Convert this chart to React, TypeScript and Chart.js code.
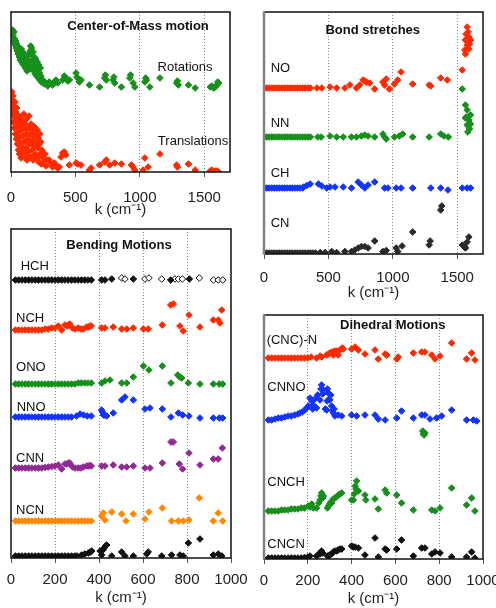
import React, { useEffect, useRef } from 'react';
import { Chart, registerables } from 'chart.js';

Chart.register(...registerables);

type Pt = [number, number];

// tick values
const ticksWide = [0, 500, 1000, 1500];
const ticksNarrow = [0, 200, 400, 600, 800, 1000];

// ---------- Panel 1: Center-of-Mass motion (x in cm-1, y arbitrary units 0..160) ----------
const rotations: Pt[] = [
  [8,138],[12,142],[16,136],[20,130],[24,140],[28,133],[32,127],[36,131],[40,124],[44,128],[48,121],[52,126],
  [56,118],[60,122],[64,115],[68,120],[72,112],[76,117],[80,123],[84,110],[88,116],[92,108],[96,113],[100,119],
  [104,106],[108,111],[112,104],[116,115],[120,109],[124,101],[128,112],[132,106],[136,117],[140,110],[144,103],
  [148,121],[152,126],[156,118],[160,124],[164,112],[168,107],[172,120],[176,101],[180,115],[184,109],[188,98],
  [192,113],[196,104],[200,96],[204,110],[208,101],[212,94],[216,107],[220,99],[224,92],[228,104],[232,96],
  [236,90],[240,93],[245,92],[258,88],[271,89],[285,86],[297,90],[310,88],[323,87],[336,90],[349,92],[362,89],
  [401,92],[414,96],[427,94],[440,91],[453,92],[505,99],[512,95],[518,94],[531,90],[544,92],[609,87],[688,85],
  [727,94],[733,97],[740,92],[792,92],[799,95],[805,89],[857,85],[922,94],[928,97],[948,89],[961,85],[1039,90],
  [1046,94],[1052,92],[1078,85],[1156,94],[1286,89],[1292,91],[1299,87],[1378,87],[1430,84],[1547,85],[1560,86],
  [1573,84],[1586,85],[1599,87],[1605,90],[1612,89]
];
const translations: Pt[] = [
  [8,80],[10,72],[12,66],[14,58],[16,76],[18,50],[20,69],[24,62],[26,44],[28,55],[32,70],[34,38],[36,60],
  [40,50],[42,33],[44,64],[48,45],[50,28],[52,57],[56,40],[58,22],[60,52],[64,35],[66,18],[68,47],[72,30],
  [76,55],[78,14],[80,42],[84,25],[88,50],[90,36],[94,20],[98,44],[100,58],[104,30],[108,16],[110,48],[114,38],
  [118,24],[120,53],[124,12],[126,43],[130,33],[134,20],[138,45],[140,56],[144,28],[148,38],[152,15],[156,48],
  [160,30],[164,22],[168,42],[172,12],[176,35],[180,26],[184,45],[188,18],[192,38],[196,30],[200,14],[204,42],
  [208,24],[212,34],[216,10],[220,28],[224,38],[228,18],[232,30],[236,8],[240,22],[248,14],[256,10],[264,18],
  [272,6],[280,12],[297,12],[310,8],[323,5],[336,9],[349,7],[362,4],[375,5],[388,15],[401,19],[414,20],[427,17],
  [453,7],[505,9],[518,8],[544,7],[609,2],[622,4],[688,7],[727,10],[740,12],[766,7],[805,9],[857,8],[935,7],
  [948,5],[961,2],[1026,2],[1039,14],[1065,5],[1156,18],[1286,7],[1292,5],[1378,8],[1430,2],[1547,1],[1560,2],
  [1586,1],[1599,1],[1612,0]
];

// ---------- Panel 2: Bond stretches (y 0..242) ----------
const noData: Pt[] = [
  [20,166],[40,166],[60,166],[80,166],[100,166],[120,166],[140,166],[160,166],[180,166],[200,166],[220,166],
  [240,166],[260,166],[280,166],[300,166],[320,166],[340,166],[360,166],[411,166],[449,166],[513,167],[564,166],
  [628,166],[667,169],[718,166],[744,169],[769,174],[782,173],[795,172],[821,171],[859,165],[923,172],[936,169],
  [949,175],[974,165],[1013,170],[1038,174],[1064,182],[1154,170],[1282,169],[1295,168],[1372,176],[1423,174],
  [1539,184],[1577,227],[1585,222],[1569,220],[1590,217],[1564,214],[1603,214],[1595,210],[1577,209],[1590,205],
  [1559,204],[1564,200]
];
const nnData: Pt[] = [
  [20,117],[40,117],[60,117],[80,117],[100,117],[120,117],[140,117],[160,117],[180,117],[200,117],[220,117],
  [240,117],[260,117],[280,117],[300,117],[320,117],[340,117],[360,117],[418,117],[444,117],[513,118],[564,117],
  [615,117],[679,117],[718,117],[756,118],[782,119],[808,118],[859,117],[923,120],[936,117],[949,115],[1013,117],
  [1051,118],[1077,120],[1154,117],[1282,117],[1372,120],[1397,118],[1431,117],[1539,165],[1564,149],[1577,144],
  [1569,137],[1590,134],[1603,130],[1577,129],[1595,125],[1582,122],[1564,136],[1603,139]
];
const chData: Pt[] = [
  [20,66],[40,66],[60,66],[80,66],[100,66],[120,66],[140,66],[160,66],[180,66],[200,66],[220,66],[240,66],
  [260,66],[280,66],[300,66],[308,67],[333,68.5],[359,70],[423,70],[449,68],[487,66],[513,67],[551,67],[615,67],
  [679,66],[731,72],[756,69],[782,66],[808,69],[859,72],[936,66],[962,66],[1026,66],[1064,66],[1154,66],
  [1295,66],[1372,66],[1428,64],[1539,66],[1577,66],[1603,66]
];
const cnData: Pt[] = [
  [20,1],[40,1],[60,1],[80,1],[100,1],[120,1],[140,1],[160,1],[180,1],[200,1],[220,1],[240,1],[260,1],[280,1],
  [300,1],[320,1],[340,1],[360,1],[380,1],[400,1],[436,1.5],[474,1.5],[526,2.5],[564,1.5],[628,2.5],[679,2.5],
  [705,4],[731,6],[756,7.5],[782,7.5],[808,6],[859,13],[923,2.5],[949,3.5],[1026,6],[1038,2.5],[1072,8],
  [1154,22],[1282,9],[1290,13],[1372,44],[1380,48],[1539,9],[1551,8],[1559,7],[1564,6],[1577,12],[1590,17]
];

// ---------- Panel 3: Bending motions (y 0..329) ----------
const hchFilled: Pt[] = [
  [20,278],[35,278],[50,278],[65,278],[80,278],[95,278],[110,278],[125,278],[140,278],[155,278],[170,278],
  [185,278],[200,278],[215,278],[230,278],[245,278],[260,278],[275,278],[290,278],[305,278],[320,278],[335,278],
  [350,278],[365,278],[412,278],[427,278],[458,279],[556,279],[726,278],[811,279]
];
const hchOpen: Pt[] = [
  [503,280],[518,279],[609,279],[627,280],[685,279],[745,279],[761,279],[779,279],[856,280],[920,278],[942,278],
  [962,278]
];
const nchData: Pt[] = [
  [20,228],[35,228],[50,228],[65,228],[80,228],[95,228],[110,228],[125,228],[140,228],[155,229],[170,229],
  [185,230],[200,230],[215,232],[230,228],[245,233],[255,232],[261,233],[268,234],[280,230],[291,229],[306,230],
  [318,229],[329,229],[344,231],[352,231],[359,232],[365,232],[412,230],[427,230],[465,231],[503,229],[526,229],
  [556,230],[602,229],[624,229],[688,233],[726,253],[738,254],[768,232],[783,227],[809,243],[859,231],[920,238],
  [942,238],[950,235],[958,248]
];
const onoData: Pt[] = [
  [20,174],[35,174],[50,174],[65,174],[80,174],[95,174],[110,174],[125,174],[140,174],[155,174],[170,174],
  [185,174],[200,174],[215,174],[230,174],[245,174],[260,174],[275,174],[290,174],[306,175],[320,175],[336,175],
  [350,175],[365,175],[412,175],[427,177],[450,178],[503,175],[526,175],[556,181],[602,192],[627,188],[688,192],
  [727,175],[758,183],[767,181],[776,180],[806,175],[859,174],[920,174],[947,174],[962,174]
];
const nnoData: Pt[] = [
  [20,141],[35,141],[50,141],[65,141],[80,141],[95,141],[110,141],[125,141],[140,141],[155,141],[170,141],
  [185,141],[200,141],[215,141],[230,141],[245,141],[260,141],[275,141],[298,142],[314,144],[330,143],[347,142],
  [365,142],[412,148],[415,146],[420,143],[425,143],[435,142],[465,145],[503,158],[518,161],[556,158],[609,149],
  [632,150],[688,149],[727,141],[761,145],[780,143],[809,142],[859,140],[920,140],[947,140],[962,140]
];
const cnnData: Pt[] = [
  [20,90],[35,90],[50,90],[65,90],[80,90],[95,90],[110,90],[125,90],[140,90],[155,90.5],[170,91],[185,91.5],
  [200,92],[215,93],[230,89],[245,94],[255,94],[261,95],[268,95],[280,91],[291,90],[306,90],[318,90],[329,91],
  [344,92],[352,92],[359,92.5],[365,92],[412,92],[427,92],[465,93],[503,91],[526,91],[556,92],[609,90],[632,90],
  [688,95],[727,116],[738,116],[765,94],[780,89],[809,105],[859,93],[920,99],[942,99],[961,110]
];
const ncnData: Pt[] = [
  [20,37],[35,37],[50,37],[65,37],[80,37],[95,37],[110,37],[125,37],[140,37],[155,37],[170,37],[185,37],
  [200,37],[215,37],[230,37],[245,37],[260,37],[275,37],[290,37],[305,37],[320,37],[335,37],[350,37],[365,37],
  [412,42],[420,45],[427,38],[458,46],[503,44],[523,37],[556,44],[609,39],[627,46],[688,50],[730,37],[761,37],
  [783,37],[809,38],[856,60],[920,37],[942,45],[962,37]
];
const bendBottom: Pt[] = [
  [20,2],[35,2],[50,2],[65,2],[80,2],[95,2],[110,2],[125,2],[140,2],[155,2],[170,2],[185,2],[200,2],[215,2],
  [230,2],[245,2],[260,2],[275,2],[290,2],[300,2],[321,3],[335,4],[352,5],[360,6],[367,7],[405,7],[412,3],
  [418,8],[423,10],[430,12],[435,13],[458,2],[503,6],[518,2],[556,2],[617,4],[624,6],[685,2],[730,3],[768,3],
  [783,2],[806,15],[859,19],[920,3],[942,4],[958,2]
];

// ---------- Panel 4: Dihedral motions (y 0..244) ----------
const cncNData: Pt[] = [
  [20,201],[35,201],[50,201],[65,201],[80,201],[95,201],[110,201],[125,201],[140,201],[155,201],[170,201],
  [185,201],[200,201],[215,202],[240,201],[256,203],[263,202],[286,204],[295,205],[301,206],[310,207],[317,204],
  [322,208],[332,208],[339,204],[347,209],[352,210],[358,211],[362,210],[400,210],[416,212],[431,209],[461,205],
  [507,209],[522,200],[553,205],[560,204],[606,200],[613,202],[682,206],[720,207],[735,207],[766,204],[781,200],
  [804,203],[857,216],[925,200],[948,206],[963,199]
];
const cnnoData: Pt[] = [
  [20,139],[35,139],[50,140],[65,141],[80,141],[95,142],[110,143],[125,143],[140,144],[155,145],[164,146],
  [175,147],[187,149],[195,151],[202,153],[210,161],[218,158],[222,150],[225,154],[232,160],[240,151],[245,164],
  [256,159],[260,170],[263,174],[268,165],[271,169],[280,150],[286,149],[288,158],[290,170],[294,166],[297,160],
  [301,159],[305,164],[309,153],[313,148],[317,146],[320,150],[324,143],[339,144],[355,143],[400,144],[423,143],
  [461,144],[507,144],[522,140],[553,139],[606,141],[628,148],[682,141],[720,144],[735,144],[758,140],[788,141],
  [811,143],[857,149],[925,139],[956,139],[971,138]
];
const cnchData: Pt[] = [
  [20,48],[35,48],[50,48],[65,48],[80,49],[95,49],[110,49],[125,50],[140,50],[155,50],[170,51],[185,51],
  [202,53],[210,52],[218,55],[225,51],[240,51],[250,56],[256,59],[260,63],[263,66],[268,61],[271,63],[290,51],
  [294,53],[300,55],[305,57],[309,56],[316,60],[324,61],[330,62],[339,64],[347,65],[355,66],[400,59],[408,59],
  [412,65],[416,73],[420,70],[423,78],[431,68],[461,64],[465,59],[507,60],[522,50],[553,69],[560,66],[606,64],
  [628,56],[682,49],[725,128],[728,125],[731,124],[735,126],[766,49],[781,48],[804,51],[857,71],[925,54],
  [948,61],[963,48]
];
const cncnData: Pt[] = [
  [20,1],[35,1],[50,1],[65,1],[80,1],[95,1],[110,1],[125,1],[140,1],[155,1],[170,1],[185,1.5],[200,2],[210,3],
  [240,3],[250,5],[256,5],[263,8],[268,6],[290,3],[294,3],[300,4],[309,5],[316,7],[324,8],[332,8],[339,9],
  [347,10],[355,10],[400,13],[408,12],[416,12],[431,11],[461,4],[507,21],[522,2],[553,10],[560,9],[606,10],
  [628,19],[682,3],[720,11],[735,11],[766,5],[781,7],[804,6],[857,2],[925,2],[948,7],[963,1]
];

const RED = '#ff2a00';
const GREEN = '#16901a';
const BLUE = '#1433ff';
const PURPLE = '#922a94';
const ORANGE = '#ff8800';
const BLACK = '#111111';
const FONT = '"Liberation Sans", Arial, Helvetica, sans-serif';

type Series = { data: Pt[]; color: string; open?: boolean };
type Label = { text: string; x: number; y: number; bold?: boolean; align?: CanvasTextAlign };
type Spec = {
  left: number; top: number; width: number; height: number;
  pad: { l: number; t: number; r: number };
  axisH: number; xMax: number; ticks: number[]; yMax: number; tickPad: number; titlePad: number;
  leftColor: string; leftWidth: number;
  series: Series[]; labels: Label[];
};

const panels: Spec[] = [
  {
    left: 0, top: 0, width: 250, height: 220, pad: { l: 11, t: 12, r: 20 }, axisH: 48,
    xMax: 1700, ticks: ticksWide, yMax: 160, tickPad: 12, titlePad: 1, leftColor: BLACK, leftWidth: 1.5,
    series: [{ data: rotations, color: GREEN }, { data: translations, color: RED }],
    labels: [
      { text: 'Center-of-Mass motion', x: 986, y: 146, bold: true, align: 'center' },
      { text: 'Rotations', x: 1351, y: 105, align: 'center' },
      { text: 'Translations', x: 1413, y: 31, align: 'center' },
    ],
  },
  {
    left: 250, top: 0, width: 246, height: 303, pad: { l: 14, t: 12, r: 13 }, axisH: 49,
    xMax: 1700, ticks: ticksWide, yMax: 242, tickPad: 10, titlePad: 1, leftColor: '#808080', leftWidth: 2.5,
    series: [
      { data: noData, color: RED }, { data: nnData, color: GREEN },
      { data: chData, color: BLUE }, { data: cnData, color: '#2a2a2a' },
    ],
    labels: [
      { text: 'Bond stretches', x: 844, y: 224, bold: true, align: 'center' },
      { text: 'NO', x: 52, y: 186 }, { text: 'NN', x: 52, y: 131 },
      { text: 'CH', x: 52, y: 81 }, { text: 'CN', x: 52, y: 31 },
    ],
  },
  {
    left: 0, top: 220, width: 250, height: 388, pad: { l: 11, t: 9, r: 19 }, axisH: 50,
    xMax: 1000, ticks: ticksNarrow, yMax: 329, tickPad: 8, titlePad: 1, leftColor: BLACK, leftWidth: 1.5,
    series: [
      { data: hchFilled, color: BLACK }, { data: hchOpen, color: BLACK, open: true },
      { data: nchData, color: RED }, { data: onoData, color: GREEN }, { data: nnoData, color: BLUE },
      { data: cnnData, color: PURPLE }, { data: ncnData, color: ORANGE }, { data: bendBottom, color: BLACK },
    ],
    labels: [
      { text: 'Bending Motions', x: 491, y: 313, bold: true, align: 'center' },
      { text: 'HCH', x: 44, y: 292 }, { text: 'NCH', x: 23, y: 240 }, { text: 'ONO', x: 23, y: 191 },
      { text: 'NNO', x: 26, y: 151 }, { text: 'CNN', x: 23, y: 100 }, { text: 'NCN', x: 23, y: 48 },
    ],
  },
  {
    left: 250, top: 300, width: 262, height: 308, pad: { l: 14, t: 15, r: 29 }, axisH: 49,
    xMax: 1000, ticks: ticksNarrow, yMax: 244, tickPad: 8, titlePad: 0, leftColor: '#808080', leftWidth: 2.5,
    series: [
      { data: cncNData, color: RED }, { data: cnnoData, color: BLUE },
      { data: cnchData, color: GREEN }, { data: cncnData, color: BLACK },
    ],
    labels: [
      { text: 'Dihedral Motions', x: 588, y: 234, bold: true, align: 'center' },
      { text: '(CNC)-N', x: 12, y: 219 }, { text: 'CNNO', x: 15, y: 172 },
      { text: 'CNCH', x: 15, y: 77 }, { text: 'CNCN', x: 15, y: 15 },
    ],
  },
];

function Panel({ spec }: { spec: Spec }) {
  const ref = useRef<HTMLCanvasElement | null>(null);
  useEffect(() => {
    const canvas = ref.current;
    if (!canvas) return;
    const framePlugin = {
      id: 'frame',
      afterDatasetsDraw(chart: any) {
        const { ctx, chartArea: a } = chart;
        ctx.save();
        ctx.strokeStyle = BLACK;
        ctx.lineWidth = 1.5;
        ctx.beginPath();
        ctx.moveTo(a.left, a.top);
        ctx.lineTo(a.right, a.top);
        ctx.lineTo(a.right, a.bottom);
        ctx.lineTo(a.left, a.bottom);
        ctx.stroke();
        ctx.strokeStyle = spec.leftColor;
        ctx.lineWidth = spec.leftWidth;
        ctx.beginPath();
        ctx.moveTo(a.left, a.top - 0.75);
        ctx.lineTo(a.left, a.bottom + 0.75);
        ctx.stroke();
        ctx.restore();
      },
    };
    const labelPlugin = {
      id: 'labels',
      afterDraw(chart: any) {
        const { ctx } = chart;
        const xs = chart.scales.x;
        const ys = chart.scales.y;
        ctx.save();
        ctx.fillStyle = '#111';
        ctx.textBaseline = 'middle';
        for (const l of spec.labels) {
          ctx.font = l.bold ? `bold 13px ${FONT}` : `13px ${FONT}`;
          ctx.textAlign = l.align || 'left';
          ctx.fillText(l.text, xs.getPixelForValue(l.x), ys.getPixelForValue(l.y));
        }
        ctx.restore();
      },
    };
    const chart = new Chart(canvas, {
      type: 'scatter',
      data: {
        datasets: spec.series.map((s) => ({
          data: s.data.map(([x, y]) => ({ x, y })),
          pointStyle: 'rectRot',
          pointRadius: 3.3,
          pointBorderWidth: 1,
          pointBackgroundColor: s.open ? '#ffffff' : s.color,
          pointBorderColor: s.color,
          backgroundColor: s.color,
          borderColor: s.color,
        })),
      },
      options: {
        responsive: false,
        animation: false,
        events: [],
        layout: { padding: { left: spec.pad.l, top: spec.pad.t, right: spec.pad.r, bottom: 0 } },
        plugins: { legend: { display: false }, tooltip: { enabled: false }, title: { display: false } },
        scales: {
          x: {
            type: 'linear',
            min: 0,
            max: spec.xMax,
            afterBuildTicks: (s: any) => {
              s.ticks = spec.ticks.map((v) => ({ value: v }));
            },
            afterFit: (s: any) => {
              s.height = spec.axisH;
              s.paddingLeft = 0;
              s.paddingRight = 0;
            },
            ticks: {
              autoSkip: false,
              maxRotation: 0,
              minRotation: 0,
              padding: spec.tickPad,
              color: '#222',
              font: { family: FONT, size: 15 },
              callback: (v: any) => String(v),
            },
            grid: {
              color: (c: any) => (c.tick && c.tick.value > 0 && c.tick.value < spec.xMax ? '#8c8c8c' : 'rgba(0,0,0,0)'),
              lineWidth: 1,
              drawTicks: true,
              tickLength: 5,
              tickColor: '#555',
            },
            border: { display: false, dash: [1, 2] },
            title: {
              display: true,
              text: 'k (cm⁻¹)',
              color: '#222',
              font: { family: FONT, size: 15 },
              padding: { top: 0, bottom: spec.titlePad },
            },
          },
          y: { display: false, min: 0, max: spec.yMax },
        },
      } as any,
      plugins: [framePlugin, labelPlugin],
    });
    return () => chart.destroy();
  }, [spec]);
  return (
    <canvas
      ref={ref}
      width={spec.width}
      height={spec.height}
      style={{ position: 'absolute', left: spec.left, top: spec.top, width: spec.width, height: spec.height, display: 'block' }}
    />
  );
}

export default function App() {
  return (
    <div style={{ position: 'fixed', left: 0, top: 0, width: 496, height: 608, overflow: 'hidden', background: '#fff' }}>
      {panels.map((p, i) => (
        <Panel key={i} spec={p} />
      ))}
    </div>
  );
}
